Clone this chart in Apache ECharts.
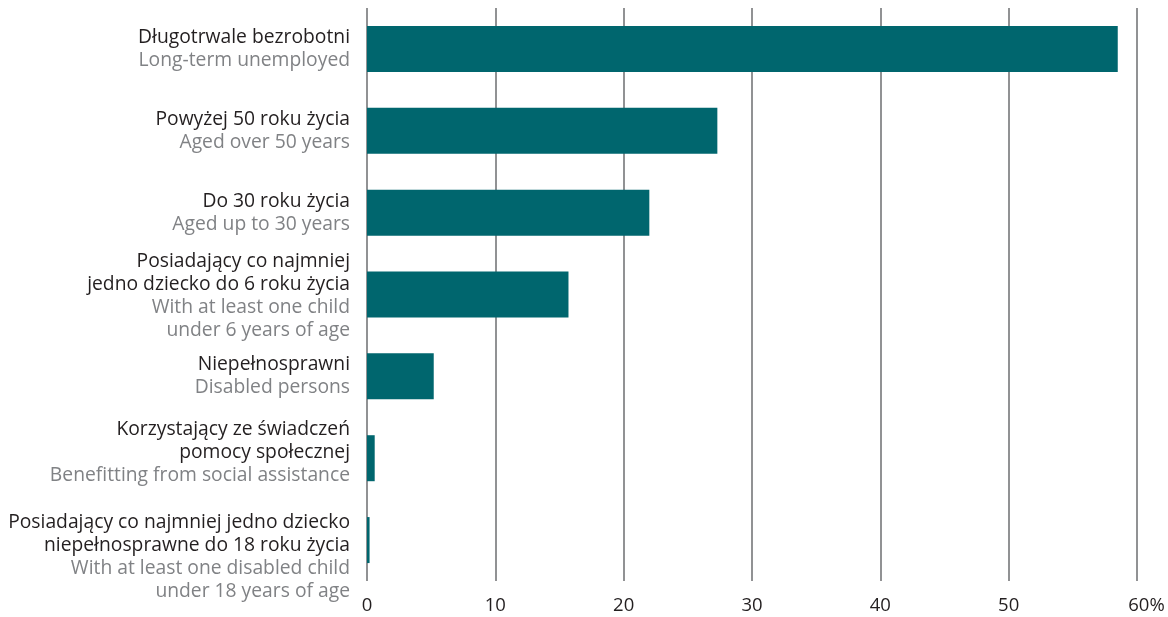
<!DOCTYPE html>
<html>
<head>
<meta charset="utf-8">
<script src="https://cdn.jsdelivr.net/npm/echarts@6/dist/echarts.min.js"></script>
<style>html,body{margin:0;padding:0;background:#fff}#c{width:1168px;height:617px}</style>
</head>
<body>
<div id="c"></div>
<script>
const labelsPl = [
  ["Długotrwale bezrobotni"],
  ["Powyżej 50 roku życia"],
  ["Do 30 roku życia"],
  ["Posiadający co najmniej", "jedno dziecko do 6 roku życia"],
  ["Niepełnosprawni"],
  ["Korzystający ze świadczeń", "pomocy społecznej"],
  ["Posiadający co najmniej jedno dziecko", "niepełnosprawne do 18 roku życia"]
];
const labelsEn = [
  ["Long-term unemployed"],
  ["Aged over 50 years"],
  ["Aged up to 30 years"],
  ["With at least one child", "under 6 years of age"],
  ["Disabled persons"],
  ["Benefitting from social assistance"],
  ["With at least one disabled child", "under 18 years of age"]
];
const values = [58.5, 27.3, 22.0, 15.7, 5.2, 0.6, 0.2];
const xTicks = [0, 10, 20, 30, 40, 50, 60];

const FONT = 'Open Sans';
const labelPadding = {5: [0, 0, 12, 0], 6: [34, 0, 0, 0], 3: [4, 0, 0, 0]};
const categories = labelsPl.map((pl, i) => {
  const text = pl.map(s => '{pl|' + s + '}').concat(labelsEn[i].map(s => '{en|' + s + '}')).join('\n');
  if (labelPadding[i]) {
    return { value: text, textStyle: { padding: labelPadding[i] } };
  }
  return text;
});

const chart = echarts.init(document.getElementById('c'));
chart.setOption({
  animation: false,
  grid: { left: 367, right: 31, top: 8, bottom: 36, containLabel: false },
  xAxis: {
    type: 'value', min: xTicks[0], max: xTicks[xTicks.length - 1], interval: 10,
    axisLine: { show: false }, axisTick: { show: false },
    splitLine: { show: true, lineStyle: { color: '#6d6e71', width: 1.5 } },
    axisLabel: {
      margin: 15, color: '#231f20', fontFamily: FONT, fontSize: 18.5,
      formatter: v => v === 60 ? '{last|60%}' : String(v),
      rich: { last: { fontFamily: FONT, fontSize: 18.5, color: '#231f20', padding: [0, 0, 0, 19] } }
    }
  },
  yAxis: {
    type: 'category', inverse: true, data: categories,
    axisLine: { show: false }, axisTick: { show: false },
    axisLabel: {
      margin: 17, align: 'right',
      rich: {
        pl: { fontFamily: FONT, fontSize: 19.3, color: '#231f20', lineHeight: 23, align: 'right' },
        en: { fontFamily: FONT, fontSize: 19.3, color: '#808285', lineHeight: 23, align: 'right' }
      }
    }
  },
  series: [{
    type: 'bar', data: values, barWidth: 46,
    itemStyle: { color: '#00666e' }
  }]
});
</script>
</body>
</html>
